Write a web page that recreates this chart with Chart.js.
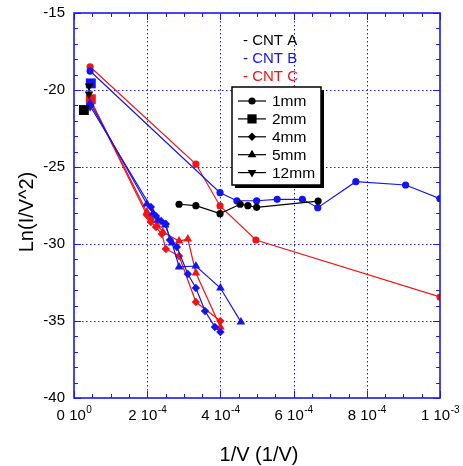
<!DOCTYPE html>
<html><head><meta charset="utf-8">
<script src="https://cdn.jsdelivr.net/npm/chart.js@4.4.1/dist/chart.umd.min.js"></script>
<style>html,body{margin:0;padding:0;background:#fff;}canvas{display:block;}</style>
</head><body>
<canvas id="c" width="463" height="466"></canvas>
<script>
// ---- axes / labels ----
const xTicks = [0, 2e-4, 4e-4, 6e-4, 8e-4, 1e-3];
const xTickMantissa = ['0', '2', '4', '6', '8', '1'];
const xTickExponent = ['0', '-4', '-4', '-4', '-4', '-3'];
const xMinorStep = 0.5e-4;
const yTicks = [-15, -20, -25, -30, -35, -40];
const yMinorStep = 1;
const xTitle = '1/V (1/V)';
const yTitle = 'Ln(I/V^2)';
const sampleNames = ['- CNT A', '- CNT B', '- CNT C'];
const sizeNames = ['1mm', '2mm', '4mm', '5mm', '12mm'];

// ---- CNT A (black) ----
const a1mmX = [2.87e-4, 3.33e-4, 3.99e-4, 4.54e-4, 4.75e-4, 4.99e-4, 6.67e-4];
const a1mmY = [-27.42, -27.51, -28.03, -27.42, -27.51, -27.62, -27.21];
const a2mmX = [2.7e-5];
const a2mmY = [-21.3];
const a12mmX = [4.1e-5, 4.1e-5];
const a12mmY = [-19.74, -20.26];

// ---- CNT B (blue) ----
const b1mmX = [4.4e-5, 3.99e-4, 4.45e-4, 4.99e-4, 5.55e-4, 6.24e-4, 6.66e-4, 7.70e-4, 9.06e-4, 1.0e-3];
const b1mmY = [-18.77, -26.67, -27.19, -27.19, -27.1, -27.1, -27.64, -25.95, -26.17, -27.06];
const b2mmX = [4.6e-5];
const b2mmY = [-19.57];
const b4mmX = [4.4e-5, 2.10e-4, 2.24e-4, 2.38e-4, 2.51e-4, 2.62e-4, 2.81e-4, 3.11e-4, 3.33e-4, 3.58e-4, 3.85e-4, 4.0e-4];
const b4mmY = [-21.04, -27.6, -28.18, -28.51, -28.7, -29.74, -30.19, -31.95, -32.86, -34.35, -35.39, -35.71];
const b5mmX = [4.4e-5, 1.99e-4, 2.16e-4, 2.30e-4, 2.49e-4, 2.68e-4, 2.87e-4, 3.33e-4, 4.0e-4, 4.56e-4];
const b5mmY = [-20.84, -27.4, -27.99, -28.44, -28.77, -29.94, -31.49, -31.43, -32.86, -35.06];
const b12mmX = [4.4e-5];
const b12mmY = [-21.08];

// ---- CNT C (red) ----
const c1mmX = [4.4e-5, 3.33e-4, 3.99e-4, 4.97e-4, 1.0e-3];
const c1mmY = [-18.49, -24.81, -27.53, -29.74, -33.44];
const c2mmX = [4.6e-5];
const c2mmY = [-20.6];
const c4mmX = [4.6e-5, 1.99e-4, 2.10e-4, 2.24e-4, 2.40e-4, 2.51e-4, 2.87e-4, 3.33e-4, 4.0e-4];
const c4mmY = [-20.71, -28.12, -28.57, -28.9, -29.35, -30.32, -30.78, -33.77, -35.0];
const c5mmX = [4.4e-5, 1.99e-4, 2.10e-4, 2.27e-4, 2.43e-4, 2.87e-4, 3.11e-4, 3.33e-4, 4.0e-4];
const c5mmY = [-20.58, -27.92, -28.31, -28.77, -29.22, -29.81, -29.68, -31.88, -35.39];

// ---- styling ----
const BLACK = '#000000', BLUE = '#1414f0', RED = '#f01414', AXIS = '#1a1aee';
const FONT = '"Liberation Sans", Arial, sans-serif';
const shapes = {
  '1mm': {style: 'circle', r: 3.6, rot: 0},
  '2mm': {style: 'rect', r: 7, rot: 0},
  '4mm': {style: 'rectRot', r: 4.2, rot: 0},
  '5mm': {style: 'triangle', r: 5, rot: 0},
  '12mm': {style: 'triangle', r: 5, rot: 180}
};

const seriesList = [
  {xs: a1mmX, ys: a1mmY, color: BLACK, size: '1mm'},
  {xs: a2mmX, ys: a2mmY, color: BLACK, size: '2mm'},
  {xs: a12mmX, ys: a12mmY, color: BLACK, size: '12mm'},
  {xs: b1mmX, ys: b1mmY, color: BLUE, size: '1mm'},
  {xs: b2mmX, ys: b2mmY, color: BLUE, size: '2mm'},
  {xs: b4mmX, ys: b4mmY, color: BLUE, size: '4mm'},
  {xs: b5mmX, ys: b5mmY, color: BLUE, size: '5mm'},
  {xs: b12mmX, ys: b12mmY, color: BLUE, size: '12mm'},
  {xs: c1mmX, ys: c1mmY, color: RED, size: '1mm'},
  {xs: c2mmX, ys: c2mmY, color: RED, size: '2mm'},
  {xs: c4mmX, ys: c4mmY, color: RED, size: '4mm'},
  {xs: c5mmX, ys: c5mmY, color: RED, size: '5mm'}
];

const datasets = seriesList.map(s => ({
  label: s.size,
  data: s.xs.map((x, i) => ({x: x, y: s.ys[i]})),
  borderColor: s.color,
  backgroundColor: s.color,
  borderWidth: 1.2,
  showLine: true,
  tension: 0,
  pointStyle: shapes[s.size].style,
  pointRadius: shapes[s.size].r,
  pointRotation: shapes[s.size].rot,
  pointBorderWidth: 0,
  pointBackgroundColor: s.color,
  fill: false
}));

function marker(ctx, shape, x, y, r, rot) {
  ctx.beginPath();
  if (shape === 'circle') ctx.arc(x, y, r, 0, Math.PI * 2);
  else if (shape === 'rect') { const s = r * Math.SQRT1_2; ctx.rect(x - s, y - s, 2 * s, 2 * s); }
  else if (shape === 'rectRot') { ctx.moveTo(x - r, y); ctx.lineTo(x, y - r); ctx.lineTo(x + r, y); ctx.lineTo(x, y + r); ctx.closePath(); }
  else if (shape === 'triangle') {
    let a = -Math.PI / 2 + (rot ? Math.PI : 0);
    ctx.moveTo(x + Math.cos(a) * r, y + Math.sin(a) * r);
    for (let k = 1; k < 3; k++) { a += Math.PI * 2 / 3; ctx.lineTo(x + Math.cos(a) * r, y + Math.sin(a) * r); }
    ctx.closePath();
  }
  ctx.fill();
}

const axesPlugin = {
  id: 'axesPlugin',
  beforeDatasetsDraw(chart) {
    const {ctx, chartArea: a, scales: {x, y}} = chart;
    ctx.save();
    ctx.strokeStyle = AXIS; ctx.lineWidth = 1; ctx.setLineDash([1.5, 2.5]);
    ctx.beginPath();
    xTicks.forEach(v => {
      const p = Math.round(x.getPixelForValue(v)) + 0.5;
      if (p > a.left + 2 && p < a.right - 2) { ctx.moveTo(p, a.top); ctx.lineTo(p, a.bottom); }
    });
    yTicks.forEach(v => {
      const p = Math.round(y.getPixelForValue(v)) + 0.5;
      if (p > a.top + 2 && p < a.bottom - 2) { ctx.moveTo(a.left, p); ctx.lineTo(a.right, p); }
    });
    ctx.stroke();
    ctx.restore();
  },
  afterDatasetsDraw(chart) {
    const {ctx, chartArea: a, scales: {x, y}} = chart;
    ctx.save();
    // frame
    ctx.strokeStyle = AXIS; ctx.lineWidth = 1.6; ctx.setLineDash([]);
    ctx.strokeRect(a.left, a.top, a.right - a.left, a.bottom - a.top);
    // ticks (inward)
    ctx.lineWidth = 1;
    ctx.beginPath();
    const nx = Math.round((x.max - x.min) / xMinorStep);
    for (let i = 0; i <= nx; i++) {
      const v = x.min + i * xMinorStep;
      const p = Math.round(x.getPixelForValue(v)) + 0.5;
      const len = (i % 4 === 0) ? 7 : 4;
      ctx.moveTo(p, a.bottom); ctx.lineTo(p, a.bottom - len);
      ctx.moveTo(p, a.top); ctx.lineTo(p, a.top + len);
    }
    const ny = Math.round((y.max - y.min) / yMinorStep);
    for (let i = 0; i <= ny; i++) {
      const v = y.min + i * yMinorStep;
      const p = Math.round(y.getPixelForValue(v)) + 0.5;
      const len = (i % 5 === 0) ? 7 : 4;
      ctx.moveTo(a.left, p); ctx.lineTo(a.left + len, p);
      ctx.moveTo(a.right, p); ctx.lineTo(a.right - len, p);
    }
    ctx.stroke();

    // y tick labels
    ctx.fillStyle = '#000';
    ctx.font = '15px ' + FONT;
    ctx.textAlign = 'right'; ctx.textBaseline = 'middle';
    yTicks.forEach(v => ctx.fillText(String(v), a.left - 9, y.getPixelForValue(v)));

    // x tick labels with superscript exponents
    ctx.textBaseline = 'alphabetic'; ctx.textAlign = 'left';
    xTicks.forEach((v, i) => {
      const base = xTickMantissa[i] + ' 10';
      const exp = xTickExponent[i];
      ctx.font = '15px ' + FONT;
      const w1 = ctx.measureText(base).width;
      ctx.font = '10px ' + FONT;
      const w2 = ctx.measureText(exp).width;
      const left = x.getPixelForValue(v) - (w1 + w2) / 2;
      ctx.font = '15px ' + FONT;
      ctx.fillText(base, left, 420);
      ctx.font = '10px ' + FONT;
      ctx.fillText(exp, left + w1 + 0.5, 413);
    });

    // axis titles
    ctx.font = '20px ' + FONT;
    ctx.textAlign = 'center';
    ctx.fillText(xTitle, (a.left + a.right) / 2 + 2, 461);
    ctx.save();
    ctx.translate(33, 212);
    ctx.rotate(-Math.PI / 2);
    ctx.fillText(yTitle, 0, 0);
    ctx.restore();

    // sample legend (text)
    const sampleColors = [BLACK, BLUE, RED];
    ctx.font = '15px ' + FONT;
    ctx.textAlign = 'left'; ctx.textBaseline = 'middle';
    sampleNames.forEach((n, i) => { ctx.fillStyle = sampleColors[i]; ctx.fillText(n, 243, 41 + i * 18); });

    // size legend box
    const bx = 232, by = 87, bw = 89, bh = 98;
    ctx.fillStyle = '#000';
    ctx.fillRect(bx + 3, by + 3, bw, bh);
    ctx.fillStyle = '#fff';
    ctx.fillRect(bx, by, bw, bh);
    ctx.strokeStyle = '#000'; ctx.lineWidth = 1.5;
    ctx.strokeRect(bx, by, bw, bh);
    sizeNames.forEach((n, i) => {
      const ry = 101 + i * 17.9;
      ctx.strokeStyle = '#000'; ctx.lineWidth = 1.2;
      ctx.beginPath(); ctx.moveTo(238, ry); ctx.lineTo(266, ry); ctx.stroke();
      ctx.fillStyle = '#000';
      const sh = shapes[n];
      marker(ctx, sh.style, 252, ry, sh.style === 'rect' ? 6.5 : sh.r, sh.rot);
      ctx.font = '15.5px ' + FONT;
      ctx.fillText(n, 272, ry + 1);
    });
    ctx.restore();
  }
};

new Chart(document.getElementById('c'), {
  type: 'line',
  data: {datasets: datasets},
  options: {
    responsive: false,
    animation: false,
    devicePixelRatio: 1,
    layout: {padding: {left: 74, top: 13, right: 23, bottom: 68}},
    plugins: {legend: {display: false}, tooltip: {enabled: false}},
    scales: {
      x: {type: 'linear', min: 0, max: 1e-3, display: false},
      y: {type: 'linear', min: -40, max: -15, display: false}
    }
  },
  plugins: [axesPlugin]
});
</script>
</body></html>
